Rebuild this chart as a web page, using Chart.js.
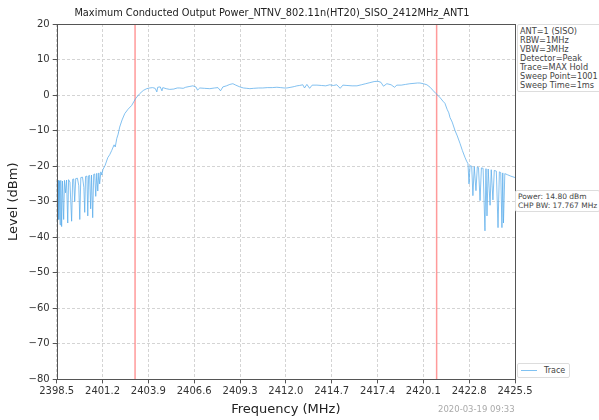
<!DOCTYPE html>
<html>
<head>
<meta charset="utf-8">
<script src="https://cdn.jsdelivr.net/npm/chart.js@4/dist/chart.umd.min.js"></script>
<style>
  html, body { margin: 0; padding: 0; background: #fff; }
  #wrap { position: relative; width: 599px; height: 420px; font-family: "DejaVu Sans", sans-serif; }
  canvas { position: absolute; left: 0; top: 0; }
  .ov { position: absolute; color: #333; white-space: nowrap; }
  .box { border: 1px solid #ddd; border-radius: 2px; background: #fff; font-size: 8.2px; line-height: 9px; padding: 2px 3px 1px 2px; color: #444; }
</style>
</head>
<body>
<div id="wrap">
  <canvas id="c" width="599" height="420"></canvas>
  <div class="ov" id="title" style="left:0;width:544px;top:7px;text-align:center;font-size:9.8px;color:#222;">Maximum Conducted Output Power_NTNV_802.11n(HT20)_SISO_2412MHz_ANT1</div>
  <div class="ov box" style="left:517px;top:24px;">ANT=1 (SISO)<br>RBW=1MHz<br>VBW=3MHz<br>Detector=Peak<br>Trace=MAX Hold<br>Sweep Point=1001<br>Sweep Time=1ms</div>
  <div class="ov box" style="left:515px;top:190px;font-size:7.5px;line-height:9px;padding:1px 2px;">Power: 14.80 dBm<br>CHP BW: 17.767 MHz</div>
  <div class="ov box" style="left:517px;top:363px;font-size:8px;line-height:11px;padding:1px 4px 1px 3px;"><span style="display:inline-block;width:16px;height:0;border-top:1.5px solid #80c2f2;vertical-align:middle;margin-right:7px;"></span>Trace</div>
  <div class="ov" style="left:438px;top:404px;font-size:8.5px;color:#aaa;">2020-03-19 09:33</div>
</div>
<script>
const xTicks = [2398.5, 2401.2, 2403.9, 2406.6, 2409.3, 2412.0, 2414.7, 2417.4, 2420.1, 2422.8, 2425.5];
const chpMarkers = [2403.1165, 2420.8835];
const traceFreq = [
  2398.50, 2398.54, 2398.58, 2398.62, 2398.66, 2398.70, 2398.74, 2398.79, 2398.84, 2398.91,
  2398.96, 2399.02, 2399.08, 2399.15, 2399.20, 2399.28, 2399.38, 2399.44, 2399.50, 2399.56,
  2399.62, 2399.72, 2399.80, 2399.86, 2399.92, 2400.02, 2400.10, 2400.15, 2400.20, 2400.28,
  2400.33, 2400.38, 2400.44, 2400.50, 2400.55, 2400.62, 2400.68, 2400.74, 2400.80, 2400.86,
  2400.92, 2400.98, 2401.03, 2401.10, 2401.16, 2401.22, 2401.35, 2401.51, 2401.62, 2401.74,
  2401.88, 2401.95, 2402.04, 2402.12, 2402.21, 2402.35, 2402.51, 2402.70, 2402.92, 2403.05,
  2403.16, 2403.39, 2403.60, 2403.80, 2403.98, 2404.15, 2404.30, 2404.40, 2404.45, 2404.60,
  2404.70, 2404.75, 2404.95, 2405.16, 2405.40, 2405.60, 2405.75, 2405.95, 2406.10, 2406.30,
  2406.52, 2406.70, 2406.80, 2406.93, 2407.20, 2407.52, 2407.80, 2408.00, 2408.15, 2408.29,
  2408.50, 2408.70, 2408.88, 2409.05, 2409.29, 2409.50, 2409.70, 2409.88, 2410.10, 2410.40,
  2410.64, 2410.90, 2411.20, 2411.47, 2411.70, 2411.90, 2412.06, 2412.30, 2412.50, 2412.65,
  2412.80, 2413.00, 2413.10, 2413.24, 2413.40, 2413.55, 2413.83, 2414.10, 2414.35, 2414.59,
  2414.80, 2415.00, 2415.20, 2415.36, 2415.60, 2415.90, 2416.19, 2416.45, 2416.70, 2416.95,
  2417.20, 2417.42, 2417.60, 2417.75, 2417.95, 2418.20, 2418.40, 2418.54, 2418.80, 2419.05,
  2419.31, 2419.55, 2419.75, 2419.90, 2420.10, 2420.31, 2420.50, 2420.67, 2420.85, 2420.96,
  2421.10, 2421.25, 2421.37, 2421.50, 2421.60, 2421.67, 2421.80, 2421.96, 2422.10, 2422.26,
  2422.40, 2422.55, 2422.65, 2422.73, 2422.79, 2422.85, 2422.95, 2423.02, 2423.10, 2423.20,
  2423.28, 2423.35, 2423.44, 2423.52, 2423.62, 2423.73, 2423.79, 2423.85, 2423.92, 2424.03,
  2424.10, 2424.20, 2424.28, 2424.40, 2424.50, 2424.58, 2424.66, 2424.73, 2424.78, 2424.82,
  2424.90, 2425.05, 2425.25, 2425.50
];
const traceLevel = [
  -24.2, -36.0, -24.0, -35.0, -24.1, -36.5, -24.0, -37.0, -24.2, -35.0,
  -24.0, -27.5, -23.9, -36.0, -23.8, -24.5, -35.5, -23.7, -23.6, -30.0,
  -23.5, -23.4, -25.5, -35.0, -23.2, -23.1, -26.0, -33.0, -22.9, -22.8,
  -34.0, -22.7, -22.6, -32.0, -22.5, -34.5, -22.3, -22.2, -28.5, -22.0,
  -27.0, -21.9, -25.0, -21.6, -22.5, -21.0, -19.8, -17.6, -16.8, -15.6,
  -14.0, -14.6, -12.2, -11.0, -9.0, -7.0, -5.2, -4.0, -2.9, -1.8,
  -0.9, 0.4, 1.3, 1.8, 2.0, 2.1, 1.9, 0.9, 2.2, 2.3,
  1.2, 2.1, 1.8, 1.6, 1.7, 2.0, 2.0, 1.9, 2.2, 2.4,
  2.6, 2.3, 1.4, 2.0, 1.9, 1.8, 2.0, 2.1, 1.2, 2.3,
  2.6, 3.0, 3.2, 2.8, 2.3, 2.0, 1.9, 1.8, 1.9, 2.0,
  2.0, 2.1, 2.1, 2.2, 2.1, 2.0, 2.0, 2.2, 2.4, 2.6,
  2.7, 2.9, 2.0, 3.0, 1.9, 2.8, 2.8, 2.7, 2.6, 2.9,
  2.7, 2.9, 1.9, 2.8, 2.7, 2.6, 2.6, 2.9, 3.2, 3.5,
  3.8, 3.9, 3.6, 2.5, 3.2, 2.9, 2.2, 2.8, 2.8, 3.0,
  3.2, 3.3, 3.4, 3.4, 3.2, 2.9, 2.2, 1.3, 0.4, -0.1,
  -0.8, -1.7, -2.3, -4.0, -5.0, -6.3, -7.6, -9.9, -11.5, -13.6,
  -15.6, -17.5, -18.6, -19.3, -25.0, -19.9, -20.0, -28.3, -20.1, -26.9,
  -20.2, -20.4, -29.7, -20.5, -20.6, -38.2, -20.7, -34.0, -20.8, -31.0,
  -21.0, -29.5, -21.2, -21.4, -37.3, -21.6, -21.8, -37.3, -21.9, -36.0,
  -22.1, -22.4, -22.8, -23.2
];
const yMin = -80, yMax = 20, yStep = 10;

const tracePts = traceFreq.map((f, i) => ({ x: f, y: traceLevel[i] }));
const markerSets = chpMarkers.map(f => ({
  data: [{ x: f, y: yMin }, { x: f, y: yMax }],
  borderColor: 'rgba(255,120,120,0.75)', borderWidth: 1.5, pointRadius: 0, fill: false
}));

const framePlugin = {
  id: 'frame',
  afterDatasetsDraw(chart) {
    const a = chart.chartArea, ctx = chart.ctx;
    ctx.save();
    ctx.strokeStyle = '#555';
    ctx.lineWidth = 1;
    ctx.strokeRect(Math.round(a.left) + 0.5, Math.round(a.top) + 0.5, Math.round(a.right - a.left), Math.round(a.bottom - a.top));
    ctx.restore();
  }
};

const minus = s => String(s).replace('-', '\u2212');

new Chart(document.getElementById('c'), {
  type: 'line',
  data: {
    datasets: [
      { data: tracePts, borderColor: 'rgba(90,172,235,0.75)', borderWidth: 1, pointRadius: 0, fill: false, tension: 0 },
      ...markerSets
    ]
  },
  options: {
    responsive: false,
    animation: false,
    parsing: false,
    layout: { padding: { left: 6, right: 84, top: 24, bottom: 3 } },
    plugins: { legend: { display: false }, tooltip: { enabled: false }, title: { display: false } },
    scales: {
      x: {
        type: 'linear', min: xTicks[0], max: xTicks[xTicks.length - 1],
        afterBuildTicks: s => { s.ticks = xTicks.map(v => ({ value: v })); },
        ticks: { color: '#333', font: { family: 'DejaVu Sans', size: 10 }, padding: 2, maxRotation: 0, autoSkip: false,
                 callback: v => Number(v).toFixed(1) },
        grid: { color: '#d4d4d4', tickColor: '#555', tickLength: 4, tickBorderDash: [0, 0], drawTicks: true },
        border: { display: false, dash: [3, 2] },
        title: { display: true, text: 'Frequency (MHz)', color: '#222', font: { family: 'DejaVu Sans', size: 13 }, padding: { top: 2, bottom: 0 } }
      },
      y: {
        min: yMin, max: yMax,
        ticks: { stepSize: yStep, color: '#333', font: { family: 'DejaVu Sans', size: 10 }, padding: 3, callback: v => minus(v) },
        grid: { color: '#d4d4d4', tickColor: '#555', tickLength: 4, tickBorderDash: [0, 0] },
        border: { display: false, dash: [3, 2] },
        title: { display: true, text: 'Level (dBm)', color: '#222', font: { family: 'DejaVu Sans', size: 13 }, padding: { top: 0, bottom: 4 } }
      }
    }
  },
  plugins: [framePlugin]
});
</script>
</body>
</html>
